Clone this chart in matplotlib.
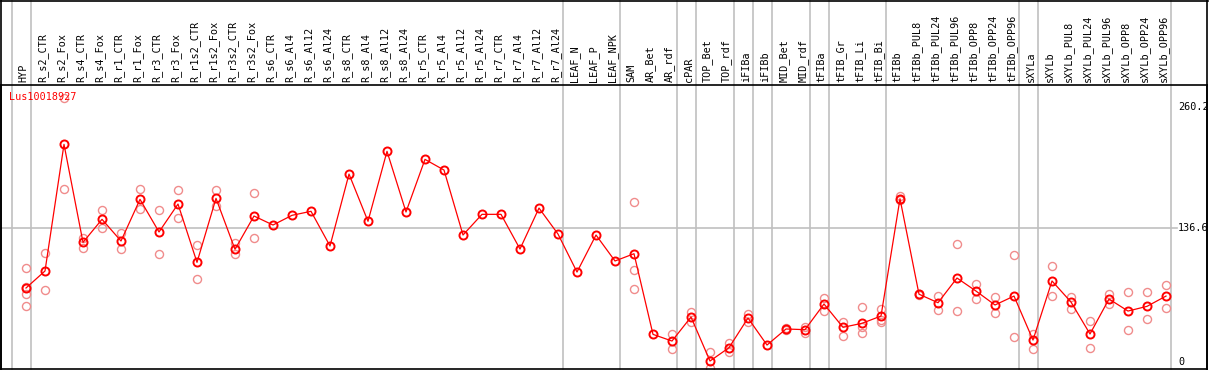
import matplotlib
matplotlib.use("Agg")
import matplotlib.pyplot as plt
from matplotlib.lines import Line2D

# ---- data ----
samples = ["HYP", "R_s2_CTR", "R_s2_Fox", "R_s4_CTR", "R_s4_Fox", "R_r1_CTR", "R_r1_Fox",
           "R_r3_CTR", "R_r3_Fox", "R_r1s2_CTR", "R_r1s2_Fox", "R_r3s2_CTR", "R_r3s2_Fox",
           "R_s6_CTR", "R_s6_Al4", "R_s6_Al12", "R_s6_Al24", "R_s8_CTR", "R_s8_Al4",
           "R_s8_Al12", "R_s8_Al24", "R_r5_CTR", "R_r5_Al4", "R_r5_Al12", "R_r5_Al24",
           "R_r7_CTR", "R_r7_Al4", "R_r7_Al12", "R_r7_Al24", "LEAF_N", "LEAF_P", "LEAF_NPK",
           "SAM", "AR_Bet", "AR_rdf", "cPAR", "TOP_Bet", "TOP_rdf", "iFIBa", "iFIBb",
           "MID_Bet", "MID_rdf", "tFIBa", "tFIB_Gr", "tFIB_Li", "tFIB_Bi", "tFIBb",
           "tFIBb_PUL8", "tFIBb_PUL24", "tFIBb_PUL96", "tFIBb_OPP8", "tFIBb_OPP24",
           "tFIBb_OPP96", "sXYLa", "sXYLb", "sXYLb_PUL8", "sXYLb_PUL24", "sXYLb_PUL96",
           "sXYLb_OPP8", "sXYLb_OPP24", "sXYLb_OPP96"]

means = [75.5, 92.9, 222.1, 122.1, 145.6, 123.5, 166.0, 132.7, 161.2, 101.7, 167.0,
         115.0, 149.0, 139.8, 149.7, 153.8, 118.4, 191.8, 143.6, 215.0, 153.1, 206.8,
         195.9, 129.6, 150.7, 150.7, 115.3, 157.1, 130.6, 91.8, 129.6, 103.1, 110.5,
         28.2, 21.4, 45.9, 1.0, 14.6, 44.9, 17.3, 33.7, 33.0, 59.2, 35.4, 39.5, 46.9,
         166.6, 69.2, 60.5, 85.7, 72.4, 58.2, 67.3, 22.4, 82.7, 61.2, 28.6, 64.3, 52.0,
         56.8, 67.3]

replicates = [
    [95.6, 76.9, 69.4, 56.8], [110.9, 73.2], [176.5, 269.0], [126.9, 116.6],
    [155.1, 136.4], [131.3, 115.0], [176.5, 155.8], [155.1, 110.2], [175.5, 146.6],
    [119.1, 84.4], [175.5, 159.2], [121.1, 109.9], [172.1, 126.2],
    [], [], [], [], [], [], [], [], [], [], [], [], [], [], [], [], [], [], [],
    [163.3, 93.5, 74.2], [], [28.6, 12.9], [50.7, 40.5], [9.9, -6.5], [19.0, 10.5],
    [48.6, 40.5], [], [35.0, 32.4], [36.0, 29.3], [65.0, 52.0], [40.5, 26.9],
    [55.8, 35.4, 29.9], [54.1, 42.9, 41.1], [169.4, 165.3], [69.8, 68.4],
    [67.3, 52.7], [120.4, 52.0], [79.6, 63.9], [66.3, 49.7], [108.9, 25.5],
    [28.2, 13.3], [97.6, 67.3], [66.7, 54.4], [41.8, 14.3], [69.7, 58.9],
    [71.4, 32.7], [71.4, 43.6], [78.6, 54.8],
]

group_starts = [0, 1, 29, 32, 35, 36, 38, 39, 40, 42, 43, 46, 53, 54, 61]
y_ticks = [0, 136.6, 260.2]
gene = "Lus10018927"

# ---- figure ----
W, H = 1209, 370
fig = plt.figure(figsize=(W / 100, H / 100), dpi=100)
mono = "DejaVu Sans Mono"
fs = 7.3

# plot box in pixels: x 1..1207, y 85..369
ax = fig.add_axes([1 / W, 1 / H, 1206 / W, 284 / H])
ax.set_xlim((1 - 26) / 19, (1207 - 26) / 19)
ax.set_ylim(-7.14, 282.7)
ax.set_xticks([])
ax.set_yticks([])
for s in ax.spines.values():
    s.set_color("black")
    s.set_linewidth(1.2)

grey = "#c0c0c0"
for g in group_starts:
    ax.axvline(g - 0.75, ymin=0, ymax=1.4, color=grey, lw=1.2, clip_on=False, zorder=1)
ax.axhline(136.6, xmin=0, xmax=0.975, color=grey, lw=1.2, zorder=1)

xs = list(range(len(samples)))
for i, reps in enumerate(replicates):
    ax.plot([i] * len(reps), reps, ls="none", marker="o", ms=5.8, mfc="none",
            mec="#f08c8c", mew=1.0, zorder=2, clip_on=False)
ax.plot(xs, means, color="red", lw=0.9, marker="o", ms=5.8, mfc="none",
        mec="red", mew=1.4, zorder=3)

# column labels in the header
for i, name in enumerate(samples):
    ax.text(i - 0.12, 1 + 2.5 / 284, name, rotation=90, ha="center", va="bottom",
            family=mono, fontsize=fs, transform=ax.get_xaxis_transform(), clip_on=False)

# value labels on the right
for v in y_ticks:
    ax.text(1178, v, f"{v:g}", ha="left", va="center", family=mono, fontsize=fs,
            transform=matplotlib.transforms.blended_transform_factory(
                matplotlib.transforms.IdentityTransform(), ax.transData))

ax.text(9 / W, 1 - 97 / H, gene, color="red", family=mono, fontsize=fs,
        ha="left", va="center", transform=fig.transFigure)

# outer border of the picture
for xy in [([0.5, W - 1.5], [H - 0.5, H - 0.5]), ([1, 1], [0, H]), ([W - 2, W - 2], [0, H])]:
    fig.add_artist(Line2D([p / W for p in xy[0]], [p / H for p in xy[1]],
                          color="black", lw=1.2, transform=fig.transFigure))

fig.savefig("out.png", dpi=100)
